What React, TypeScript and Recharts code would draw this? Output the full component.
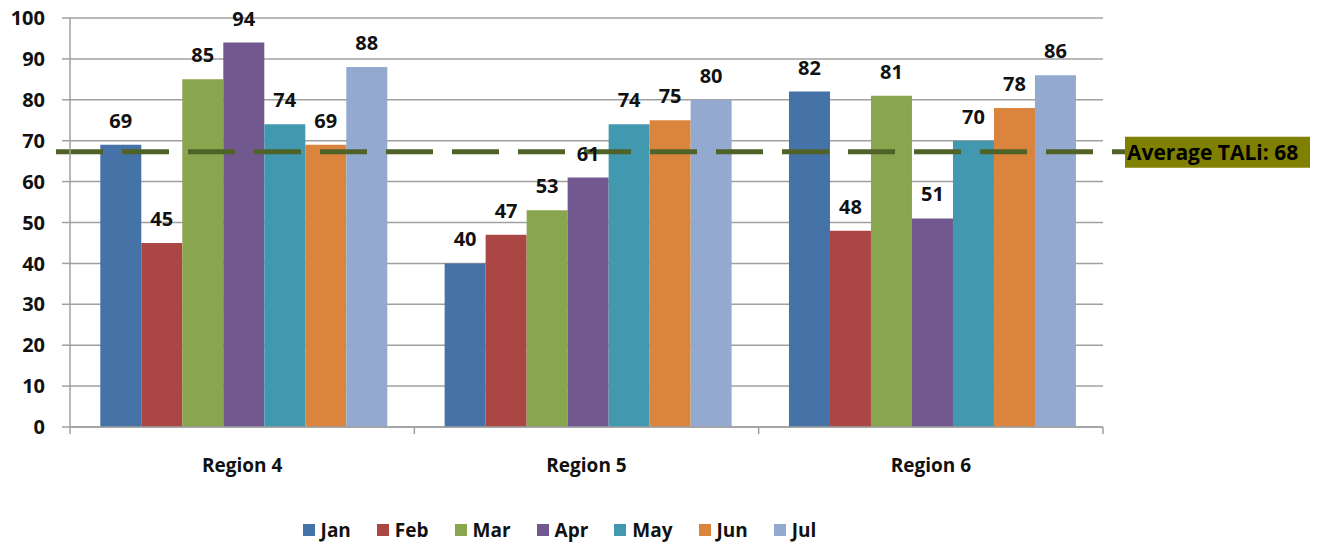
import React from 'react';
import { BarChart, Bar, XAxis, YAxis, CartesianGrid, ReferenceLine, LabelList } from 'recharts';

const categories = ['Region 4', 'Region 5', 'Region 6'];
const months = ['Jan', 'Feb', 'Mar', 'Apr', 'May', 'Jun', 'Jul'];
const janValues = [69, 40, 82];
const febValues = [45, 47, 48];
const marValues = [85, 53, 81];
const aprValues = [94, 61, 51];
const mayValues = [74, 74, 70];
const junValues = [69, 75, 78];
const julValues = [88, 80, 86];
const seriesColors = ['#4572A7', '#AA4643', '#89A54E', '#71588F', '#4198AF', '#DB843D', '#93A9CF'];
const yTicks = [0, 10, 20, 30, 40, 50, 60, 70, 80, 90, 100];
const averageValue = 67.3;
const averageLabel = 'Average TALi: 68';

const seriesValues = [janValues, febValues, marValues, aprValues, mayValues, junValues, julValues];

const data = categories.map((region, i) => {
  const row: Record<string, string | number> = { region };
  months.forEach((m, k) => {
    row[m] = seriesValues[k][i];
  });
  return row;
});

const FONT = "'Open Sans', 'Noto Sans', sans-serif";
const AXIS_GRAY = '#A0A0A0';
const CHART_W = 1334;
const CHART_H = 545;
const MARGIN = { top: 18, right: 231, bottom: 0, left: 0 };
const Y_AXIS_W = 70;
const PLOT_W = CHART_W - MARGIN.left - MARGIN.right - Y_AXIS_W;

const XTick = (props: any) => {
  const { x, y, payload, index } = props;
  const half = payload && payload.offset ? payload.offset : PLOT_W / categories.length / 2;
  return (
    <g>
      <line x1={x - half} x2={x - half} y1={y} y2={y + 7} stroke={AXIS_GRAY} strokeWidth={1.5} />
      {index === categories.length - 1 && (
        <line x1={x + half} x2={x + half} y1={y} y2={y + 7} stroke={AXIS_GRAY} strokeWidth={1.5} />
      )}
      <text x={x} y={y + 45} textAnchor="middle" fontFamily={FONT} fontWeight={700} fontSize={19} fill="#111">
        {payload.value}
      </text>
    </g>
  );
};

const AverageShape = (props: any) => {
  const { x1, x2, y1 } = props;
  return (
    <g>
      <line
        x1={x1 - 14}
        x2={x2 + 22}
        y1={y1}
        y2={y1}
        stroke="#4F6228"
        strokeWidth={5}
        strokeDasharray="47 19"
      />
      <rect x={x2 + 22} y={y1 - 15} width={185} height={31} fill="#808000" />
      <text x={x2 + 24} y={y1 + 8} fontFamily={FONT} fontWeight={700} fontSize={21} fill="#000">
        {averageLabel}
      </text>
    </g>
  );
};

export default function App() {
  return (
    <div style={{ position: 'absolute', left: 0, top: 0, width: CHART_W, height: CHART_H, background: '#fff' }}>
      <BarChart
        width={CHART_W}
        height={CHART_H}
        data={data}
        margin={MARGIN}
        barCategoryGap="8.8%"
        barGap={0}
      >
        <CartesianGrid vertical={false} stroke={AXIS_GRAY} strokeWidth={1.5} />
        <XAxis
          dataKey="region"
          height={CHART_H - 427}
          axisLine={{ stroke: AXIS_GRAY, strokeWidth: 1.5 }}
          tickLine={false}
          tickSize={0}
          tickMargin={0}
          tick={<XTick />}
          interval={0}
        />
        <YAxis
          width={Y_AXIS_W}
          domain={[0, 100]}
          ticks={yTicks}
          interval={0}
          axisLine={{ stroke: AXIS_GRAY, strokeWidth: 1.5 }}
          tickLine={{ stroke: AXIS_GRAY, strokeWidth: 1.5 }}
          tickSize={8}
          tickMargin={17}
          tick={{ fontFamily: FONT, fontWeight: 700, fontSize: 20, fill: '#111' }}
        />
        {months.map((m, k) => (
          <Bar key={m} dataKey={m} fill={seriesColors[k]} isAnimationActive={false}>
            <LabelList
              dataKey={m}
              position="top"
              offset={17}
              fill="#111"
              fontFamily={FONT}
              fontWeight={700}
              fontSize={20}
            />
          </Bar>
        ))}
        <ReferenceLine y={averageValue} shape={<AverageShape />} />
      </BarChart>
      <div
        style={{
          position: 'absolute',
          left: 0,
          top: 518,
          width: 1119,
          height: 24,
          display: 'flex',
          justifyContent: 'center',
          alignItems: 'center',
          gap: 26,
          fontFamily: FONT,
          fontWeight: 700,
          fontSize: 19,
          color: '#111',
        }}
      >
        {months.map((m, k) => (
          <div key={m} style={{ display: 'flex', alignItems: 'center', gap: 6 }}>
            <span style={{ display: 'inline-block', width: 12, height: 12, background: seriesColors[k] }} />
            <span>{m}</span>
          </div>
        ))}
      </div>
    </div>
  );
}
